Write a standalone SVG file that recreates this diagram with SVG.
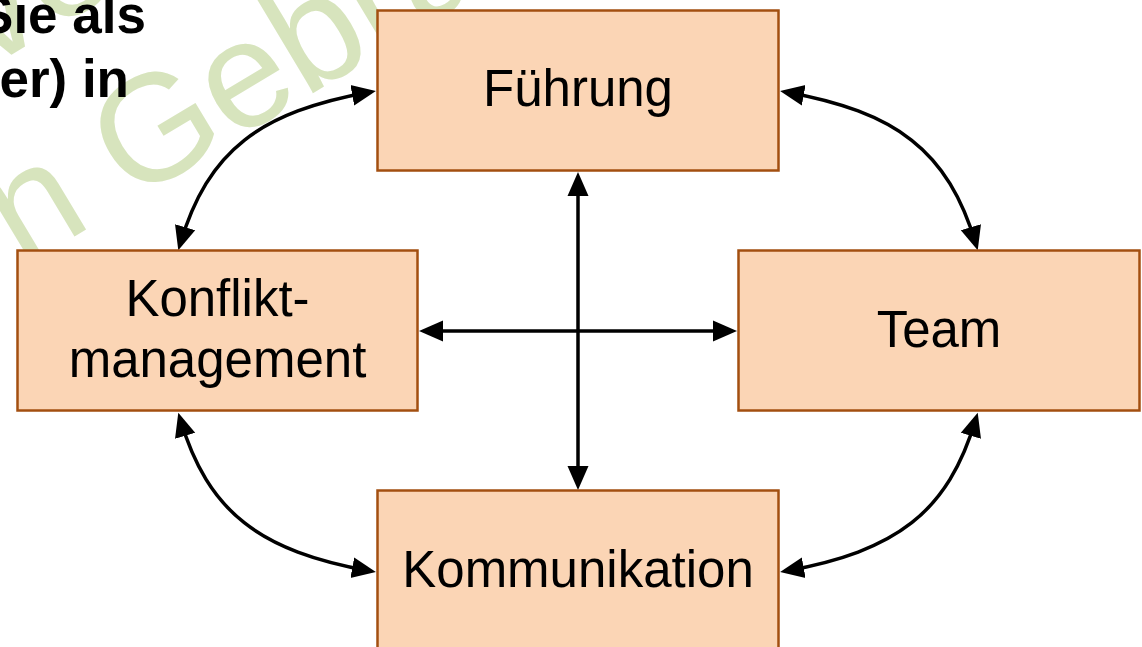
<svg xmlns="http://www.w3.org/2000/svg" width="1142" height="647" viewBox="0 0 1142 647">
  <style>
    .wm { font-family: "Liberation Sans", Arial, sans-serif; font-size: 152px; fill: #d7e4bd; }
    .head { font-family: "Liberation Sans", Arial, sans-serif; font-size: 53px; font-weight: bold; fill: #000; }
    .box { fill: #fbd5b5; stroke: #a34f10; stroke-width: 2.5; }
    .lbl { font-family: "Liberation Sans", Arial, sans-serif; font-size: 51px; fill: #000; text-anchor: middle; }
    .con { fill: none; stroke: #000; stroke-width: 3.5; marker-start: url(#arr); marker-end: url(#arr); }
  </style>
  <defs>
    <marker id="arr" markerUnits="userSpaceOnUse" viewBox="0 0 25 22" markerWidth="25" markerHeight="22" refX="18" refY="11" orient="auto-start-reverse">
      <path d="M0,0.5 L24,11 L0,21.5 Z" fill="#000"/>
    </marker>
  </defs>
  <rect width="1142" height="647" fill="#fff"/>
  <g id="watermark">
    <text class="wm" transform="translate(-14,70) rotate(-31)">ve</text>
    <text class="wm" transform="translate(22,268) rotate(-31)">n Gebrauch</text>
  </g>
  <g id="heading">
    <text class="head" x="146" y="33" text-anchor="end">Sie als</text>
    <text class="head" x="129" y="97" text-anchor="end">er) in</text>
  </g>
  <g id="connectors">
    <path class="con" d="M578,178 L578,484"/>
    <path class="con" d="M425,331 L731,331"/>
    <path class="con" d="M786,92 C896,112 948,150 976,244.4"/>
    <path class="con" d="M370,92 C260,112 208,150 180,244.4"/>
    <path class="con" d="M786,571 C896,551 948,513 976,418.6"/>
    <path class="con" d="M370,571 C260,551 208,513 180,418.6"/>
  </g>
  <g id="fuehrung">
    <rect class="box" x="377.5" y="10.5" width="401" height="160"/>
    <text class="lbl" x="578" y="106">Führung</text>
  </g>
  <g id="konfliktmanagement">
    <rect class="box" x="17.5" y="250.5" width="400" height="160"/>
    <text class="lbl" x="217.5" y="316">Konflikt-</text>
    <text class="lbl" x="217.5" y="377">management</text>
  </g>
  <g id="team">
    <rect class="box" x="738.5" y="250.5" width="401" height="160"/>
    <text class="lbl" x="939" y="347">Team</text>
  </g>
  <g id="kommunikation">
    <rect class="box" x="377.5" y="490.5" width="401" height="170"/>
    <text class="lbl" x="578" y="587">Kommunikation</text>
  </g>
</svg>
